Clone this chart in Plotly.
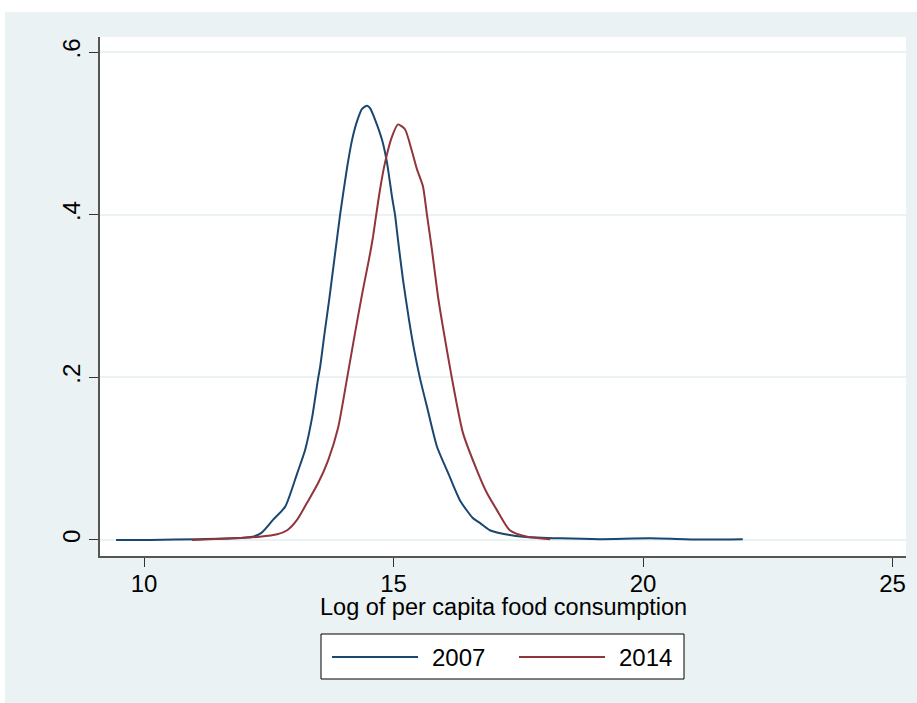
import plotly.graph_objects as go

# ---- data ----
x_2007 = [9.44, 10.12, 11.12, 11.78, 12.18, 12.36, 12.59, 12.83, 13.07, 13.23, 13.37, 13.49,
          13.53, 13.62, 13.71, 13.93, 14.07, 14.17, 14.27, 14.37, 14.47, 14.53, 14.63, 14.77, 14.87,
          14.97, 15.03, 15.09, 15.19, 15.31, 15.41, 15.53, 15.67, 15.87, 16.09, 16.33, 16.59,
          16.73, 16.93, 17.33, 17.60, 18.34, 19.14, 20.14, 21.14, 22.00]
y_2007 = [0.000, 0.000, 0.001, 0.002, 0.004, 0.009, 0.025, 0.041, 0.082, 0.111, 0.151, 0.199,
          0.213, 0.255, 0.295, 0.400, 0.458, 0.492, 0.515, 0.530, 0.534, 0.531, 0.517, 0.492, 0.464,
          0.422, 0.400, 0.369, 0.320, 0.271, 0.235, 0.199, 0.164, 0.115, 0.083, 0.049, 0.027,
          0.021, 0.012, 0.006, 0.004, 0.002, 0.001, 0.002, 0.0005, 0.001]

x_2014 = [10.96, 11.78, 12.32, 12.67, 12.87, 13.07, 13.27, 13.49, 13.69, 13.89, 14.07, 14.23,
          14.37, 14.47, 14.53, 14.59, 14.63, 14.73, 14.83, 14.97, 15.09, 15.23, 15.37,
          15.47, 15.59, 15.67, 15.77, 15.89, 15.99, 16.17, 16.39, 16.67, 16.87, 17.07, 17.33,
          17.68, 18.14]
y_2014 = [0.000, 0.002, 0.004, 0.007, 0.012, 0.025, 0.046, 0.070, 0.098, 0.138, 0.199, 0.255,
          0.302, 0.333, 0.352, 0.373, 0.390, 0.431, 0.464, 0.496, 0.511, 0.505, 0.478,
          0.456, 0.435, 0.400, 0.357, 0.300, 0.262, 0.199, 0.132, 0.086, 0.058, 0.037, 0.012,
          0.004, 0.001]

series_names = ["2007", "2014"]
x_ticks = [10, 15, 20, 25]
y_ticks = [0, 0.2, 0.4, 0.6]
y_tick_labels = ["0", ".2", ".4", ".6"]
x_title = "Log of per capita food consumption"

# ---- styling ----
NAVY = "#1A476F"
MAROON = "#90353B"
BG = "#EAF2F3"
FONT = "Liberation Sans, Arial, sans-serif"
FS_TICK = 24
FS_TITLE = 23.5
FS_LEG = 24

W, H = 917, 703
L, R, T, B = 100, 11, 37, 147
pw, ph = W - L - R, H - T - B


def px_x(p):
    return (p - L) / pw


def px_y(p):
    return (H - B - p) / ph


fig = go.Figure()
fig.add_trace(go.Scatter(x=x_2007, y=y_2007, mode="lines", name=series_names[0],
                         line=dict(color=NAVY, width=2, shape="spline", smoothing=0.6)))
fig.add_trace(go.Scatter(x=x_2014, y=y_2014, mode="lines", name=series_names[1],
                         line=dict(color=MAROON, width=2, shape="spline", smoothing=0.6)))

shapes = [
    # white strips round the outer frame
    dict(type="rect", xref="paper", yref="paper", x0=px_x(-2), x1=px_x(W + 2),
         y0=px_y(12), y1=px_y(-2), fillcolor="white", line=dict(width=0), layer="below"),
    dict(type="rect", xref="paper", yref="paper", x0=px_x(-2), x1=px_x(5),
         y0=px_y(H + 2), y1=px_y(-2), fillcolor="white", line=dict(width=0), layer="below"),
    # legend box
    dict(type="rect", xref="paper", yref="paper", x0=px_x(321), x1=px_x(684),
         y0=px_y(679), y1=px_y(634), fillcolor="white", line=dict(color="black", width=1)),
    dict(type="line", xref="paper", yref="paper", x0=px_x(332), x1=px_x(418),
         y0=px_y(657), y1=px_y(657), line=dict(color=NAVY, width=2)),
    dict(type="line", xref="paper", yref="paper", x0=px_x(519), x1=px_x(605),
         y0=px_y(657), y1=px_y(657), line=dict(color=MAROON, width=2)),
]

annotations = [
    dict(xref="paper", yref="paper", x=px_x(430), y=px_y(657), text=series_names[0],
         showarrow=False, xanchor="left", yanchor="middle",
         font=dict(family=FONT, size=FS_LEG, color="black")),
    dict(xref="paper", yref="paper", x=px_x(617), y=px_y(657), text=series_names[1],
         showarrow=False, xanchor="left", yanchor="middle",
         font=dict(family=FONT, size=FS_LEG, color="black")),
    # x axis title
    dict(xref="paper", yref="paper", x=0.5, y=px_y(607), text=x_title,
         showarrow=False, xanchor="center", yanchor="middle",
         font=dict(family=FONT, size=FS_TITLE, color="black")),
]

fig.update_layout(
    width=W, height=H,
    margin=dict(l=L, r=R, t=T, b=B),
    paper_bgcolor=BG,
    plot_bgcolor="white",
    showlegend=False,
    font=dict(family=FONT, size=FS_TICK, color="black"),
    shapes=shapes,
    annotations=annotations,
)

x_range = [10 + (L - 144) / 49.9, 10 + (W - R - 144) / 49.9]
y_range = [-(556 - 540) / 812.5, 0.6 + (52 - 37) / 812.5]

fig.update_xaxes(
    range=x_range, tickvals=x_ticks, ticks="outside", ticklen=9, tickwidth=1,
    tickcolor="#333333", showline=True, linecolor="#555555", linewidth=1.5,
    showgrid=False, zeroline=False, ticklabelstandoff=-4,
    tickfont=dict(family=FONT, size=FS_TICK, color="black"),
)
fig.update_yaxes(
    range=y_range, tickvals=y_ticks, ticktext=y_tick_labels, tickangle=-90,
    ticks="outside", ticklen=9, tickwidth=1, tickcolor="#333333",
    showline=True, linecolor="#555555", linewidth=1.5,
    showgrid=True, gridcolor=BG, gridwidth=2, zeroline=False,
    tickfont=dict(family=FONT, size=FS_TICK, color="black"),
)

fig.write_html("out.html")
